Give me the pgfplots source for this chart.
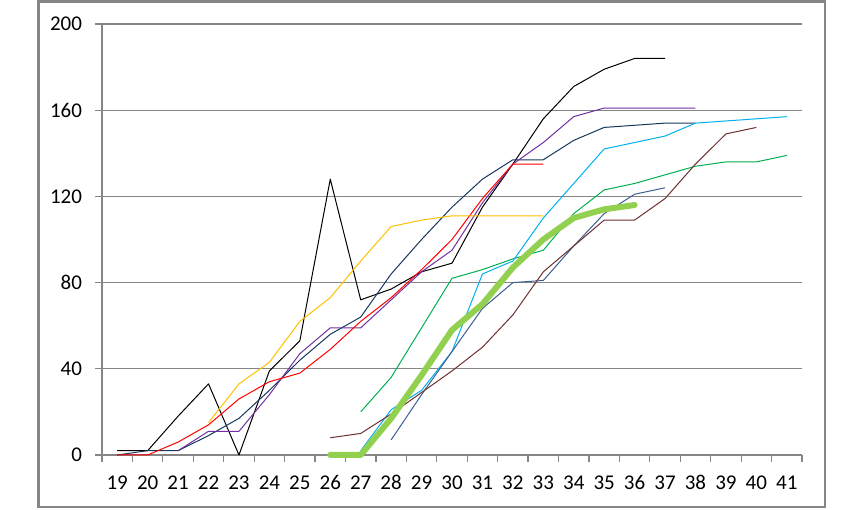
\documentclass[border=0pt]{standalone}
\usepackage{fontspec}
\setmainfont{Carlito}
\usepackage{pgfplots}
\pgfplotsset{compat=1.18}
\definecolor{axgray}{HTML}{868686}
\definecolor{cpurple}{HTML}{7030A0}
\definecolor{cnavy}{HTML}{17375E}
\definecolor{cslate}{HTML}{3A5F94}
\definecolor{cred}{HTML}{FF0000}
\definecolor{cyellow}{HTML}{FFC000}
\definecolor{cgreen}{HTML}{00B050}
\definecolor{ccyan}{HTML}{00B0F0}
\definecolor{cbrown}{HTML}{6E3030}
\definecolor{clime}{HTML}{92D050}
\newcommand{\tlfont}{\fontsize{21bp}{25bp}\selectfont}
\begin{document}
\begin{tikzpicture}[x=1bp,y=1bp]
\useasboundingbox (0,0) rectangle (862,510);
\draw[axgray, line width=2.8bp] (38.3,3) rectangle (825,508.5);
\begin{axis}[
  at={(102bp,55bp)}, anchor=south west,
  scale only axis, width=700bp, height=431bp,
  xmin=18.5, xmax=41.5, ymin=0, ymax=200,
  axis x line*=bottom, axis y line*=left,
  axis line style={-, draw=axgray, line width=1.2bp},
  xtick={19,...,41},
  minor xtick={18.5,19.5,...,41.5},
  major x tick style={draw=none},
  minor x tick style={draw=axgray, line width=1.2bp},
  ytick={0,40,...,200},
  y tick style={draw=axgray, line width=1.2bp},
  tick align=outside,
  major tick length=7bp, minor tick length=7bp,
  ymajorgrids, grid style={draw=axgray, line width=1.2bp},
  xticklabel style={font=\tlfont, text=black, yshift=-10bp},
  yticklabel style={font=\tlfont, text=black, xshift=-9.5bp},
  /pgf/number format/assume math mode=true,
  every axis plot/.append style={line width=1bp, mark=none, line join=round},
  clip=false,
]
% black
\addplot[black] coordinates {(19,2)(20,2)(21,18)(22,33)(23,0)(24,39)(25,53)(26,128)(27,72)(28,77)(29,85)(30,89)(31,115)(32,135)(33,156)(34,171)(35,179)(36,184)(37,184)};
% navy
\addplot[cnavy] coordinates {(19,0)(20,2)(21,2)(22,9)(23,17)(24,30)(25,44)(26,56)(27,64)(28,84)(29,100)(30,115)(31,128)(32,137)(33,137)(34,146)(35,152)(36,153)(37,154)(38,154)};
% purple
\addplot[cpurple] coordinates {(21,2)(22,11)(23,11)(24,28)(25,47)(26,59)(27,59)(28,72)(29,85)(30,95)(31,117)(32,135)(33,145)(34,157)(35,161)(36,161)(37,161)(38,161)};
% red
\addplot[cred] coordinates {(19,0)(20,0)(21,6)(22,14)(23,26)(24,34)(25,38)(26,49)(27,62)(28,73)(29,86)(30,100)(31,119)(32,135)(33,135)};
% yellow
\addplot[cyellow] coordinates {(22,15)(23,33)(24,43)(25,62)(26,73)(27,90)(28,106)(29,109)(30,111)(31,111)(32,111)(33,111)};
% green
\addplot[cgreen] coordinates {(27,20)(28,36)(29,59)(30,82)(31,86)(32,91)(33,95)(34,112)(35,123)(36,126)(37,130)(38,134)(39,136)(40,136)(41,139)};
% cyan
\addplot[ccyan] coordinates {(27,2)(28,21)(29,30)(30,48)(31,84)(32,90)(33,110)(34,126)(35,142)(36,145)(37,148)(38,154)(39,155)(40,156)(41,157)};
% slate blue
\addplot[cslate] coordinates {(28,7)(29,28)(30,48)(31,68)(32,80)(33,81)(34,97)(35,112)(36,121)(37,124)};
% brown
\addplot[cbrown] coordinates {(26,8)(27,10)(28,19)(29,29)(30,39)(31,50)(32,65)(33,85)(34,97)(35,109)(36,109)(37,119)(38,135)(39,149)(40,152)};
% thick lime
\addplot[clime, line width=6bp, line cap=round] coordinates {(26,0)(27,0)(28,17)(29,37)(30,58)(31,70)(32,87)(33,100)(34,110)(35,114)(36,116)};
\end{axis}
\end{tikzpicture}
\end{document}
